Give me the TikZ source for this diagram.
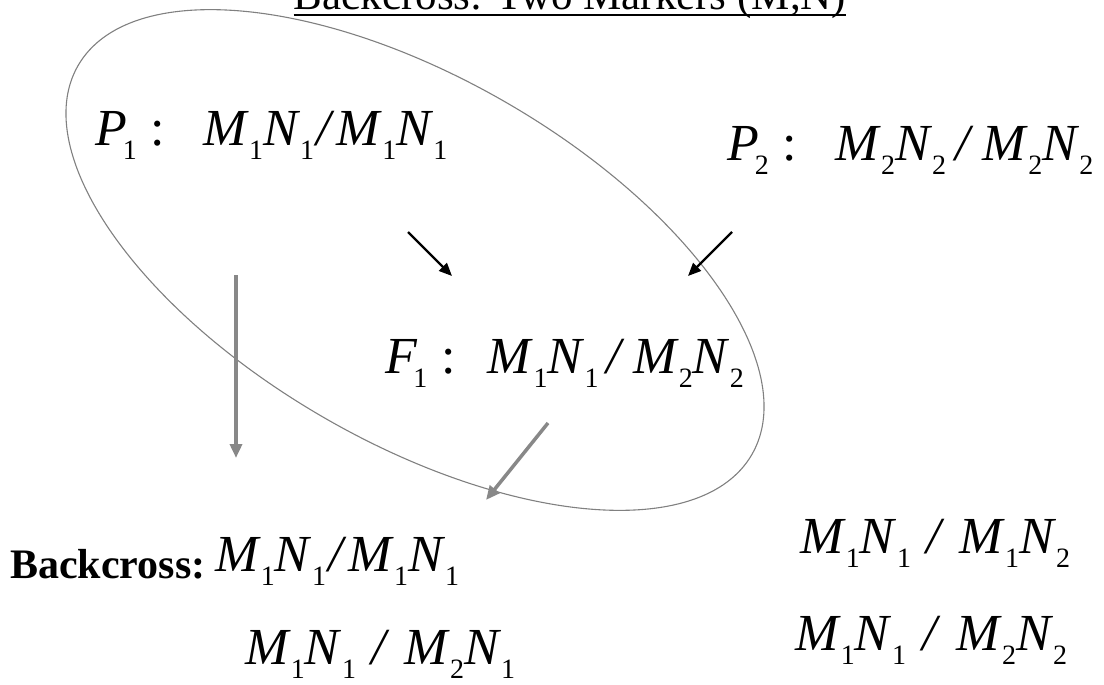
\documentclass[tikz,border=0pt]{standalone}
\usepackage{fontspec}
\setmainfont{Liberation Serif}
\usetikzlibrary{arrows.meta}
\definecolor{arrowgray}{RGB}{136,136,136}
\definecolor{ringgray}{RGB}{128,128,128}
\newcommand{\lsub}[1]{\raisebox{-14bp}{\fontsize{28bp}{28bp}\selectfont #1}}
\newcommand{\genot}[5][5bp]{\textit{M}\lsub{#2}\textit{N}\lsub{#3}\hspace{#1}\textit{/}\hspace{#1}\textit{M}\lsub{#4}\textit{N}\lsub{#5}}
\tikzset{
  geno/.style={anchor=base west, inner sep=0pt, font=\fontsize{52bp}{60bp}\selectfont},
  crossarrow/.style={line width=2.2bp, -{Triangle[length=13bp,width=11bp]}},
  bcarrow/.style={line width=3.5bp, color=arrowgray, -{Triangle[length=14bp,width=12bp]}},
  ring/.style={draw=ringgray, line width=1.1bp}
}

\begin{document}
\begin{tikzpicture}[x=1bp,y=-1bp]
    \useasboundingbox (0,0) rectangle (1104,685);

    \node[anchor=base, inner sep=0pt, font=\fontsize{43bp}{50bp}\selectfont] (title) at (570,10) {Backcross: Two Markers (M,N)};
    \draw[line width=2.5bp] ([yshift=-5bp]title.base west) -- ([yshift=-5bp]title.base east);

    \draw[ring, rotate around={-30:(415,260)}] (415,260) ellipse [x radius=389bp, y radius=182bp];

    \node[geno] (p1) at (95,146) {\textit{P}\hspace{-4bp}\lsub{1}\hspace{14bp}:\hspace{38bp}\genot[2bp]{1}{1}{1}{1}};
    \node[geno] (p2) at (727,161) {\textit{P}\hspace{-4bp}\lsub{2}\hspace{14bp}:\hspace{38bp}\genot[9bp]{2}{2}{2}{2}};
    \node[geno] (f1) at (385,373) {\textit{F}\hspace{-4bp}\lsub{1}\hspace{14bp}:\hspace{32bp}\genot[8bp]{1}{1}{2}{2}};

    \node[anchor=base west, inner sep=0pt, font=\fontsize{42bp}{50bp}\selectfont\bfseries] (bc) at (10,578) {Backcross:};
    \node[geno] (g11) at (215,571) {\genot[2bp]{1}{1}{1}{1}};
    \node[geno] (g12) at (800,553) {\genot[15bp]{1}{1}{1}{2}};
    \node[geno] (g21) at (245,664) {\genot[15bp]{1}{1}{2}{1}};
    \node[geno] (g22) at (795,650) {\genot[16bp]{1}{1}{2}{2}};

    % crosses into F1
    \coordinate (p1out) at (408,232);
    \coordinate (p2out) at (732,232);
    \coordinate (f1inl) at (452,276);
    \coordinate (f1inr) at (688,276);
    \draw[crossarrow] (p1out) -- (f1inl);
    \draw[crossarrow] (p2out) -- (f1inr);

    % backcross
    \coordinate (p1down) at (236,275);
    \coordinate (bcl) at (236,458);
    \coordinate (f1down) at (548,423);
    \coordinate (bcr) at (486,500);
    \draw[bcarrow] (p1down) -- (bcl);
    \draw[bcarrow] (f1down) -- (bcr);
\end{tikzpicture}
\end{document}
